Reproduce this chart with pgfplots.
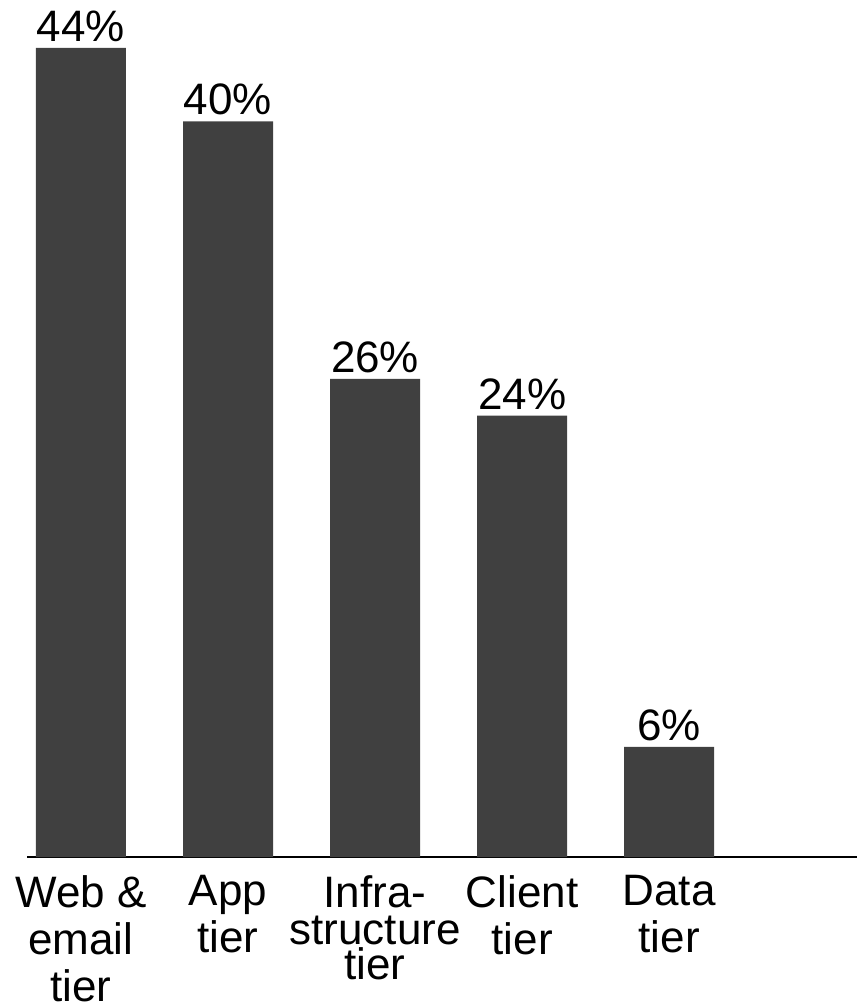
\documentclass[border=0pt]{standalone}
\usepackage{pgfplots}
\pgfplotsset{compat=1.18}
\usepackage{fontspec}
\setmainfont{Liberation Sans}
\definecolor{barc}{HTML}{404040}
\begin{document}
\begin{tikzpicture}
\begin{axis}[
  scale only axis, width=415pt, height=428.5pt,
  xmin=-0.367, xmax=5.279, ymin=0, ymax=46.6,
  hide y axis, axis x line*=bottom,
  x axis line style={line width=1pt, -},
  xtick={0,1,2,3,4},
  xticklabels={{Web \&\\email\\tier},{App\\tier},{Infra-\\[-5pt]structure\\[-6pt]tier},{Client\\tier},{Data\\tier}},
  major tick length=0pt,
  ybar, bar width=45pt, bar shift=0pt,
  nodes near coords={\pgfmathprintnumber[assume math mode=true]{\pgfplotspointmeta}\%},
  every node near coord/.append style={font=\fontsize{22}{23.5}\selectfont, anchor=south, inner sep=0pt, yshift=3pt, text=black},
  xticklabel style={font=\fontsize{22}{23.5}\selectfont, align=center, anchor=north, inner sep=0pt, yshift=-9pt},
]
\addplot[fill=barc, draw=none] coordinates {(0,44) (1,40) (2,26) (3,24) (4,6)};
\end{axis}
\path ([xshift=-13.5pt]current axis.north west);
\path ([xshift=-13.5pt]current axis.south west);
\end{tikzpicture}
\end{document}
